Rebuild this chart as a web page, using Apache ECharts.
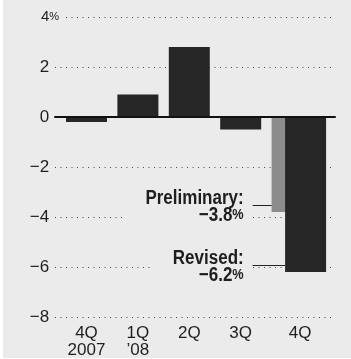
<!DOCTYPE html>
<html><head><meta charset="utf-8">
<script src="https://cdn.jsdelivr.net/npm/echarts@6/dist/echarts.min.js"></script>
<style>html,body{margin:0;padding:0;background:#fff}#main{width:351px;height:359px}</style>
</head><body><div id="main"></div>
<script>
// ---- data ----
const categories = ['4Q\n2007', '1Q\n\u201908', '2Q', '3Q', '4Q'];
const gdpValues = [-0.2, 0.9, 2.8, -0.5, -6.2];          // revised figure for last quarter
const preliminaryValues = [null, null, null, null, -3.8];
const yMin = -8, yMax = 4, yStep = 2;
const annotationLabels = ['Preliminary:', 'Revised:'];

// ---- style ----
const F = '"Liberation Sans Narrow", "Liberation Sans", Arial, sans-serif';
const BG = '#ebebeb', INK = '#1e1e1e', DARK = '#262626', GREY = '#8c8c8c';
const BAR_W = 41;
const NARROW = 0.85;
const fmt = v => (v < 0 ? '\u2212' : '') + Math.abs(v);

const mainData = gdpValues.map((v, i) => i < 4 ? v : null);
const revisedData = gdpValues.map((v, i) => i === 4 ? v : null);

const chart = echarts.init(document.getElementById('main'), null, {renderer: 'canvas'});
const gridBox = {top: 17, height: 300};
const option = {
  animation: false,
  backgroundColor: 'transparent',
  grid: [
    Object.assign({left: 55, right: 16}, gridBox),
    Object.assign({left: 60.8, width: 257}, gridBox),
    Object.assign({left: 74.3, width: 257}, gridBox)
  ],
  xAxis: [
    {gridIndex: 0, type: 'value', min: 0, max: 1, z: 10,
      axisLine: {show: true, onZero: true, lineStyle: {color: '#111', width: 2}},
      axisTick: {show: false}, axisLabel: {show: false}, splitLine: {show: false}},
    {gridIndex: 1, type: 'category', data: categories,
      axisLine: {show: false, onZero: false}, axisTick: {show: false},
      axisLabel: {interval: 0, margin: 8, color: INK, fontFamily: F, fontSize: 17, lineHeight: 17,
        formatter: (v, i) => i === 4 ? '{r|' + v + '}' : v,
        rich: {r: {padding: [0, 0, 0, 16], color: INK, fontFamily: F, fontSize: 17, lineHeight: 17}}}},
    {gridIndex: 2, type: 'category', data: categories, show: false}
  ],
  yAxis: [
    {gridIndex: 0, type: 'value', min: yMin, max: yMax, interval: yStep,
      axisLine: {show: false}, axisTick: {show: false},
      splitLine: {show: true, lineStyle: {color: '#444', width: 1, type: [1, 4.5]}},
      axisLabel: {margin: -8,
        formatter: v => v === yMax ? '{s|' + v + '}{p|%}' : '{n|' + fmt(v) + '}{h|%}',
        rich: {
          n: {fontFamily: F, fontSize: 17, color: INK},
          s: {fontFamily: F, fontSize: 15, color: INK},
          p: {fontFamily: F, fontSize: 11, color: INK, backgroundColor: BG, padding: [2, 4, 2, 0]},
          h: {fontFamily: F, fontSize: 11, color: 'transparent', padding: [0, 4, 0, 0]}
        }}},
    {gridIndex: 1, type: 'value', min: yMin, max: yMax, interval: yStep, show: false},
    {gridIndex: 2, type: 'value', min: yMin, max: yMax, interval: yStep, show: false}
  ],
  series: [
    {type: 'bar', xAxisIndex: 1, yAxisIndex: 1, data: mainData, barWidth: BAR_W, barGap: '-100%',
      itemStyle: {color: DARK}},
    {type: 'bar', xAxisIndex: 1, yAxisIndex: 1, data: preliminaryValues, barWidth: BAR_W, barGap: '-100%',
      itemStyle: {color: GREY}},
    {type: 'bar', xAxisIndex: 2, yAxisIndex: 2, data: revisedData, barWidth: BAR_W, z: 3,
      itemStyle: {color: DARK}}
  ]
};
chart.setOption(option);

// ---- annotations anchored to the last-quarter bars ----
const last = categories.length - 1;
const [c1] = chart.convertToPixel({xAxisIndex: 1, yAxisIndex: 1}, [last, 0]);
const anchors = [
  {label: annotationLabels[0], value: preliminaryValues[last], axis: 1},
  {label: annotationLabels[1], value: gdpValues[last], axis: 2}
];
const graphics = [{type: 'rect', z: -100, shape: {x: 3, y: 0, width: 348, height: 358}, style: {fill: BG}, silent: true}];
anchors.forEach(a => {
  const [cx, cy] = chart.convertToPixel({xAxisIndex: a.axis, yAxisIndex: a.axis}, [last, a.value]);
  const yLine = Math.round(cy - 7);
  const boxRight = c1 - 39.5;
  graphics.push({
    type: 'text', z: 50,
    x: boxRight, y: yLine - 17.5, scaleX: NARROW, scaleY: 1, originX: 0, originY: 0,
    style: {
      text: '{t|' + a.label + '}\n{v|' + fmt(a.value) + '}{p|%}',
      x: 0, y: 0, align: 'right', verticalAlign: 'top',
      backgroundColor: BG, padding: [2, 10.5, 2, 26],
      rich: {
        t: {font: 'bold 20px ' + F, fill: INK, lineHeight: 17},
        v: {font: 'bold 20px ' + F, fill: INK, lineHeight: 17},
        p: {font: 'bold 15px ' + F, fill: INK, lineHeight: 17}
      }
    }
  });
  graphics.push({
    type: 'line', z: 51,
    shape: {x1: boxRight, y1: yLine + 0.5, x2: cx - BAR_W / 2, y2: yLine + 0.5},
    style: {stroke: '#222', lineWidth: 1}
  });
});
chart.setOption({graphic: graphics});
</script>
</body></html>
